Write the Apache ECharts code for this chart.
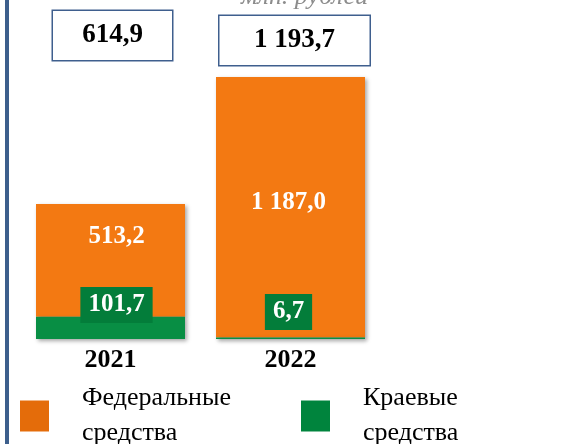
<!DOCTYPE html>
<html>
<head>
<meta charset="utf-8">
<script src="https://cdn.jsdelivr.net/npm/echarts@6/dist/echarts.min.js"></script>
<style>
  html, body { margin: 0; padding: 0; background: #fff; }
  #chart { width: 563px; height: 444px; }
</style>
</head>
<body>
<div id="chart"></div>
<script>
// годы и суммы, млн. рублей
const years = ['2021', '2022']
const federal = [513.2, 1187.0]
const regional = [101.7, 6.7]
const totals = [614.9, 1193.7]
const seriesNames = ['Федеральные средства', 'Краевые средства']

const serif = '"Times New Roman", "Liberation Serif", serif'
const fmt = v => {
  let s = v.toFixed(1).replace('.', ',')
  let parts = s.split(',')
  parts[0] = parts[0].replace(/\B(?=(\d{3})+(?!\d))/g, ' ')
  return parts.join(',')
}

// подписи сдвинуты вручную, как в исходнике
const fedOffsets = [[6, -24], [-2, -5]]
const regOffsets = [[6, -16], [-2, -9]]
const totOffsets = [[2, -144], [4, -12]]
const totWidths = [119, 150]

const chart = echarts.init(document.getElementById('chart'))

const option = {
  animation: false,
  title: {
    text: 'млн. рублей',
    left: 236,
    top: -21,
    textStyle: { fontFamily: serif, fontStyle: 'italic', fontWeight: 'normal', fontSize: 26, color: '#8c8c8c' }
  },
  graphic: [{
    type: 'rect',
    shape: { x: 5, y: 0, width: 4, height: 444 },
    style: { fill: '#3d5f8c' }
  }],
  legend: {
    data: [
      { name: seriesNames[0], itemStyle: { color: '#e46c0a' } },
      { name: seriesNames[1], itemStyle: { color: '#00843d' } }
    ],
    left: 20,
    top: 381,
    padding: 0,
    icon: 'rect',
    itemWidth: 29,
    itemHeight: 31,
    itemGap: 69,
    formatter: n => n.replace(' ', '\n'),
    textStyle: { fontFamily: serif, fontSize: 26, color: '#000', lineHeight: 35, width: 150, padding: [0, 0, 0, 28] }
  },
  grid: { left: 20.5, right: 182.5, top: 75.6, bottom: 105 },
  xAxis: {
    type: 'category',
    data: years,
    axisLine: { show: false },
    axisTick: { show: false },
    axisLabel: { fontFamily: serif, fontWeight: 'bold', fontSize: 26, color: '#000', margin: 8 }
  },
  yAxis: { type: 'value', min: 0, max: 1200, show: false },
  series: [
    {
      name: seriesNames[1],
      type: 'bar',
      stack: 'sum',
      barWidth: 149,
      itemStyle: { color: '#088e44', shadowColor: 'rgba(0,0,0,0.35)', shadowBlur: 4, shadowOffsetX: 2, shadowOffsetY: 2 },
      data: regional.map((v, i) => ({
        value: v,
        label: { offset: regOffsets[i] }
      })),
      label: {
        show: true,
        position: 'insideBottom',
        distance: 0,
        formatter: p => fmt(p.value),
        fontFamily: serif, fontWeight: 'bold', fontSize: 25, lineHeight: 24,
        color: '#fff', backgroundColor: '#037d3a', padding: [6, 8]
      },
      z: 3
    },
    {
      name: seriesNames[0],
      type: 'bar',
      stack: 'sum',
      barWidth: 149,
      itemStyle: { color: '#f37912', shadowColor: 'rgba(0,0,0,0.35)', shadowBlur: 4, shadowOffsetX: 2, shadowOffsetY: 2 },
      data: federal.map((v, i) => ({
        value: v,
        label: { offset: fedOffsets[i] }
      })),
      label: {
        show: true,
        position: 'inside',
        formatter: p => fmt(p.value),
        fontFamily: serif, fontWeight: 'bold', fontSize: 25, color: '#fff'
      },
      z: 2
    },
    {
      name: 'Всего',
      type: 'bar',
      barWidth: 149,
      barGap: '-100%',
      silent: true,
      itemStyle: { color: 'rgba(0,0,0,0)' },
      data: totals.map((v, i) => ({
        value: v,
        label: { offset: totOffsets[i], width: totWidths[i] }
      })),
      label: {
        show: true,
        position: 'top',
        distance: 0,
        formatter: p => fmt(p.value),
        fontFamily: serif, fontWeight: 'bold', fontSize: 27, color: '#000',
        height: 49, lineHeight: 49, align: 'center',
        backgroundColor: '#fff', borderColor: '#3f5f8e', borderWidth: 1.5, padding: 0
      },
      z: 1
    }
  ]
}

chart.setOption(option)
</script>
</body>
</html>
